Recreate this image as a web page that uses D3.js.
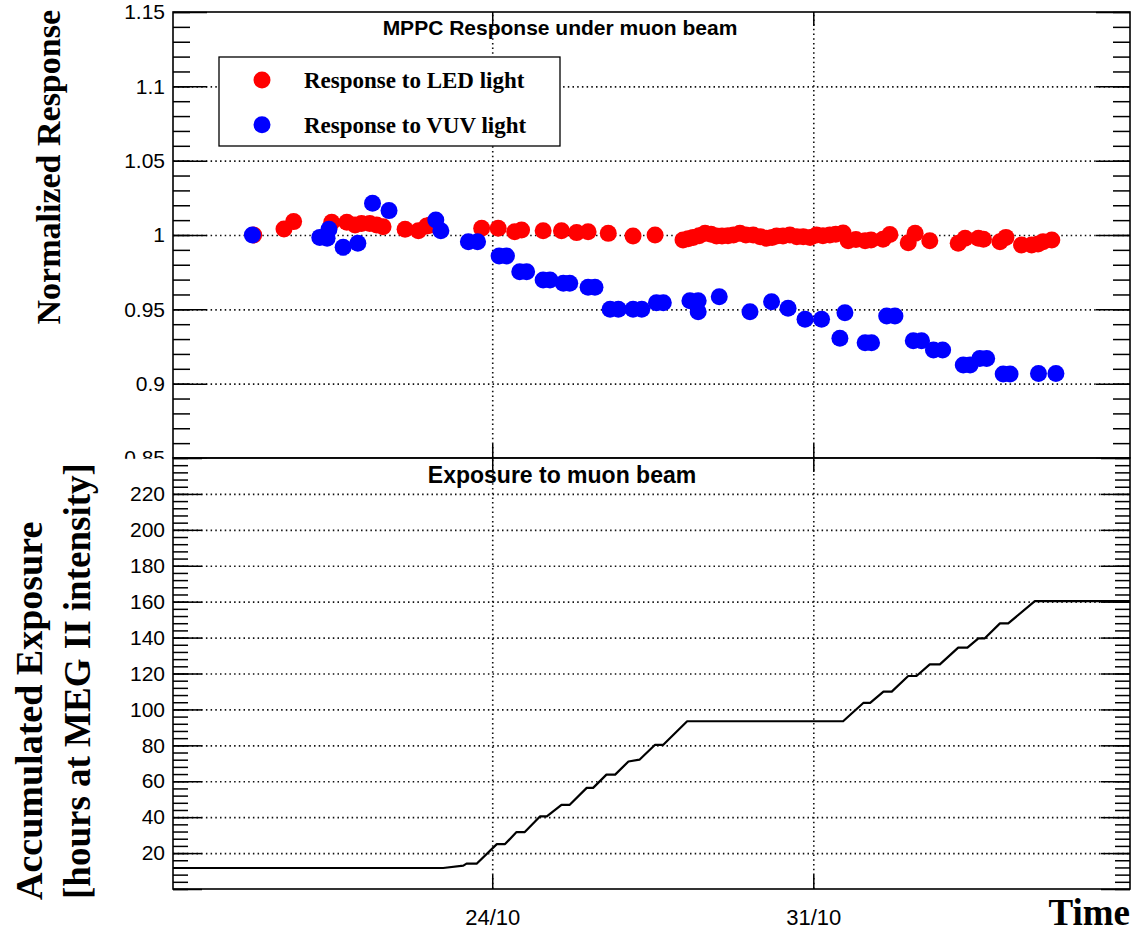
<!DOCTYPE html>
<html>
<head>
<meta charset="utf-8">
<script src="https://cdn.jsdelivr.net/npm/d3@7"></script>
<style>
  body { margin: 0; background: #fff; }
  svg { display: block; }
</style>
</head>
<body>
<div id="chart"></div>
<script>
// Time is given as fractional day counted from 1 October (32 = 1 November)
const ledDay = [18.80, 19.46, 19.67, 20.50, 20.83, 21.01, 21.15, 21.33, 21.48, 21.62, 22.10, 22.39, 22.57, 22.64,
  23.77, 24.13, 24.49, 24.64, 25.11, 25.51, 25.84, 26.09, 26.53, 27.07, 27.55, 28.16, 28.27, 28.38, 28.51, 28.64,
  28.77, 28.89, 29.01, 29.14, 29.26, 29.40, 29.53, 29.69, 29.84, 29.98, 30.10, 30.20, 30.34, 30.49, 30.64, 30.78,
  30.93, 31.07, 31.21, 31.36, 31.49, 31.65, 31.76, 31.93, 32.13, 32.26, 32.52, 32.67, 33.07, 33.22, 33.54, 34.16,
  34.31, 34.60, 34.71, 35.07, 35.20, 35.54, 35.76, 35.90, 36.01, 36.20];
const ledResponse = [1.0000, 1.0040, 1.0090, 1.0085, 1.0085, 1.0067, 1.0078, 1.0078, 1.0067, 1.0056, 1.0038, 1.0029, 1.0061, 1.0065,
  1.0045, 1.0045, 1.0022, 1.0034, 1.0029, 1.0029, 1.0016, 1.0022, 1.0011, 0.9993, 1.0000, 0.9966, 0.9975, 0.9984, 0.9995, 1.0011,
  1.0005, 0.9993, 0.9993, 0.9995, 1.0000, 1.0011, 1.0000, 1.0000, 0.9989, 0.9978, 0.9984, 0.9993, 0.9993, 1.0000, 0.9989, 0.9989,
  0.9984, 1.0000, 0.9995, 1.0000, 1.0005, 1.0014, 0.9962, 0.9970, 0.9962, 0.9966, 0.9971, 1.0003, 0.9948, 1.0011, 0.9962, 0.9944,
  0.9978, 0.9978, 0.9971, 0.9955, 0.9984, 0.9933, 0.9933, 0.9940, 0.9955, 0.9966];

const vuvDay = [18.77, 20.24, 20.40, 20.44, 20.75, 21.07, 21.39, 21.75, 22.77, 22.88, 23.48, 23.68, 24.15, 24.31,
  24.60, 24.75, 25.11, 25.26, 25.55, 25.69, 26.09, 26.24, 26.57, 26.75, 27.07, 27.26, 27.58, 27.73, 28.31, 28.49,
  28.49, 28.95, 29.62, 30.09, 30.45, 30.82, 31.18, 31.58, 31.69, 32.13, 32.27, 32.60, 32.78, 33.18, 33.36, 33.62,
  33.82, 34.27, 34.42, 34.63, 34.78, 35.14, 35.29, 35.91, 36.29];
const vuvResponse = [1.0000, 0.9984, 0.9978, 1.0038, 0.9917, 0.9944, 1.0213, 1.0164, 1.0101, 1.0029, 0.9955, 0.9955, 0.9859, 0.9859,
  0.9753, 0.9753, 0.9697, 0.9697, 0.9675, 0.9675, 0.9648, 0.9648, 0.9500, 0.9500, 0.9500, 0.9500, 0.9545, 0.9545, 0.9558, 0.9558,
  0.9484, 0.9585, 0.9484, 0.9551, 0.9507, 0.9433, 0.9433, 0.9305, 0.9477, 0.9275, 0.9275, 0.9455, 0.9455, 0.9289, 0.9289, 0.9226,
  0.9226, 0.9125, 0.9125, 0.9170, 0.9170, 0.9065, 0.9065, 0.9069, 0.9069];

const exposureDay = [17.04, 22.93, 23.37, 23.44, 23.66, 24.10, 24.28, 24.53, 24.71, 25.04, 25.19, 25.51, 25.69,
  26.06, 26.20, 26.49, 26.68, 26.97, 27.21, 27.55, 27.73, 28.25, 31.65, 32.09, 32.24, 32.53, 32.71, 33.07, 33.25,
  33.54, 33.76, 34.16, 34.36, 34.60, 34.74, 35.07, 35.25, 35.83, 37.905];
const exposureHours = [11.7, 11.7, 13.0, 14.1, 14.1, 25.0, 25.0, 31.7, 31.7, 40.4, 40.4, 46.9, 46.9,
  56.3, 56.3, 63.7, 63.7, 71.0, 72.0, 80.3, 80.3, 93.4, 93.4, 103.6, 103.6, 109.9, 109.9, 118.6, 118.6,
  125.1, 125.1, 134.4, 134.4, 139.6, 139.6, 147.9, 147.9, 160.3, 160.3];

// Axis ticks
const timeRange = [17.04, 37.905];
const timeTicks = [24, 31];
const responseTicks = [0.85, 0.9, 0.95, 1, 1.05, 1.1, 1.15];
const exposureTicks = [0, 20, 40, 60, 80, 100, 120, 140, 160, 180, 200, 220, 240];
const exposureLabels = [20, 40, 60, 80, 100, 120, 140, 160, 180, 200, 220];

// Layout
const totalWidth = 1132;
const totalHeight = 933;
const frameLeft = 173, frameRight = 1130;
const topPad = { top: 12, bottom: 458 };
const botPad = { top: 458, bottom: 889 };
const serif = "'Liberation Serif', 'Times New Roman', serif";
const sans = "'Liberation Sans', Arial, Helvetica, sans-serif";

const toDate = d => new Date(Date.UTC(2018, 9, 1) + (d - 1) * 864e5);

const svg = d3.select("#chart")
  .append("svg")
    .attr("width", totalWidth)
    .attr("height", totalHeight)
    .attr("viewBox", `0 0 ${totalWidth} ${totalHeight}`);

svg.append("rect").attr("width", totalWidth).attr("height", totalHeight).attr("fill", "#fff");

const x = d3.scaleUtc()
  .domain(timeRange.map(toDate))
  .range([frameLeft, frameRight]);

const yResp = d3.scaleLinear().domain([0.85, 1.15]).range([topPad.bottom, topPad.top]);
const yExp = d3.scaleLinear().domain([0, 240]).range([botPad.bottom, botPad.top]);

// Draws grid, ticks and frame of one pad
function drawPad(pad, y, opts) {
  const g = svg.append("g");
  const w = frameRight - frameLeft;
  const h = pad.bottom - pad.top;

  // dotted grid
  g.append("g")
    .attr("transform", `translate(${frameLeft},0)`)
    .call(d3.axisLeft(y).tickValues(opts.grid).tickSize(-w).tickFormat(""))
    .call(a => a.select(".domain").remove());
  g.append("g")
    .attr("transform", `translate(0,${pad.bottom})`)
    .call(d3.axisBottom(x).tickValues(timeTicks.map(toDate)).tickSize(-h).tickFormat(""))
    .call(a => a.select(".domain").remove());
  g.selectAll("line")
    .attr("stroke", "#111")
    .attr("stroke-width", 1.6)
    .attr("stroke-dasharray", "1.5,3.2");

  const ticks = svg.append("g").attr("color", "#000");
  // left major with labels
  ticks.append("g")
    .attr("transform", `translate(${frameLeft},0)`)
    .call(d3.axisLeft(y).tickValues(opts.major).tickSize(-opts.majorLen).tickPadding(8)
      .tickFormat(d => opts.labels.includes(d) ? d3.format("~g")(d) : ""))
    .call(a => a.select(".domain").remove())
    .attr("font-family", sans)
    .attr("font-size", opts.labelSize);
  ticks.append("g")
    .attr("transform", `translate(${frameLeft},0)`)
    .call(d3.axisLeft(y).tickValues(opts.minor).tickSize(-opts.minorLen).tickFormat(""))
    .call(a => a.select(".domain").remove());
  // right side ticks
  ticks.append("g")
    .attr("transform", `translate(${frameRight},0)`)
    .call(d3.axisRight(y).tickValues(opts.major).tickSize(-opts.majorLen).tickFormat(""))
    .call(a => a.select(".domain").remove());
  ticks.append("g")
    .attr("transform", `translate(${frameRight},0)`)
    .call(d3.axisRight(y).tickValues(opts.minor).tickSize(-opts.minorLen).tickFormat(""))
    .call(a => a.select(".domain").remove());
  // time ticks top and bottom
  ticks.append("g")
    .attr("transform", `translate(0,${pad.bottom})`)
    .call(d3.axisBottom(x).tickValues(timeTicks.map(toDate)).tickSize(-14).tickPadding(20)
      .tickFormat(opts.timeLabels ? d3.utcFormat("%d/%m") : ""))
    .call(a => a.select(".domain").remove())
    .attr("font-family", sans)
    .attr("font-size", 22);
  ticks.append("g")
    .attr("transform", `translate(0,${pad.top})`)
    .call(d3.axisTop(x).tickValues(timeTicks.map(toDate)).tickSize(-14).tickFormat(""))
    .call(a => a.select(".domain").remove());
  ticks.selectAll("line").attr("stroke-width", 1.5);
  ticks.selectAll("text").attr("fill", "#000");

  return g;
}

// ---------- Top pad: normalized response ----------
drawPad(topPad, yResp, {
  grid: [0.9, 0.95, 1, 1.05, 1.1],
  major: responseTicks,
  minor: d3.range(0.85, 1.1501, 0.01),
  labels: responseTicks,
  majorLen: 34,
  minorLen: 17,
  labelSize: 21,
  timeLabels: false
});

const ledData = ledDay.map((d, i) => ({ day: d, v: ledResponse[i] }));
const vuvData = vuvDay.map((d, i) => ({ day: d, v: vuvResponse[i] }));

svg.append("g").selectAll("circle")
  .data(ledData)
  .join("circle")
    .attr("cx", d => x(toDate(d.day)))
    .attr("cy", d => yResp(d.v))
    .attr("r", 8.5)
    .attr("fill", "#ff0000");

svg.append("g").selectAll("circle")
  .data(vuvData)
  .join("circle")
    .attr("cx", d => x(toDate(d.day)))
    .attr("cy", d => yResp(d.v))
    .attr("r", 8.5)
    .attr("fill", "#0000ff");

svg.append("rect")
  .attr("x", frameLeft).attr("y", topPad.top)
  .attr("width", frameRight - frameLeft).attr("height", topPad.bottom - topPad.top)
  .attr("fill", "none").attr("stroke", "#000").attr("stroke-width", 1.6);

svg.append("text")
  .attr("x", 560).attr("y", 35)
  .attr("text-anchor", "middle")
  .attr("font-family", sans).attr("font-weight", "bold").attr("font-size", 21)
  .text("MPPC Response under muon beam");

// legend
const legendItems = [
  { label: "Response to LED light", color: "#ff0000" },
  { label: "Response to VUV light", color: "#0000ff" }
];
const legend = svg.append("g");
legend.append("rect")
  .attr("x", 219).attr("y", 57).attr("width", 341).attr("height", 89)
  .attr("fill", "#fff").attr("stroke", "#000").attr("stroke-width", 1.3);
legendItems.forEach((item, i) => {
  const cy = 80 + i * 44.7;
  legend.append("circle").attr("cx", 262).attr("cy", cy).attr("r", 8.5).attr("fill", item.color);
  legend.append("text")
    .attr("x", 304).attr("y", cy + 8)
    .attr("font-family", serif).attr("font-weight", "bold").attr("font-size", 23)
    .text(item.label);
});

svg.append("text")
  .attr("transform", "translate(60,10) rotate(-90)")
  .attr("text-anchor", "end")
  .attr("font-family", serif).attr("font-weight", "bold").attr("font-size", 34)
  .text("Normalized Response");

// ---------- Bottom pad: accumulated exposure ----------
svg.append("rect")
  .attr("x", 0).attr("y", botPad.top + 0.8)
  .attr("width", totalWidth).attr("height", totalHeight - botPad.top)
  .attr("fill", "#fff");

drawPad(botPad, yExp, {
  grid: exposureLabels,
  major: exposureTicks,
  minor: d3.range(0, 241, 4),
  labels: exposureLabels,
  majorLen: 29,
  minorLen: 15,
  labelSize: 21,
  timeLabels: true
});

const exposureData = exposureDay.map((d, i) => ({ day: d, v: exposureHours[i] }));
svg.append("path")
  .datum(exposureData)
  .attr("fill", "none")
  .attr("stroke", "#000")
  .attr("stroke-width", 2.2)
  .attr("stroke-linejoin", "round")
  .attr("d", d3.line().x(d => x(toDate(d.day))).y(d => yExp(d.v)));

svg.append("rect")
  .attr("x", frameLeft).attr("y", botPad.top)
  .attr("width", frameRight - frameLeft).attr("height", botPad.bottom - botPad.top)
  .attr("fill", "none").attr("stroke", "#000").attr("stroke-width", 1.6);

svg.append("text")
  .attr("x", 562).attr("y", 483)
  .attr("text-anchor", "middle")
  .attr("font-family", sans).attr("font-weight", "bold").attr("font-size", 23)
  .text("Exposure to muon beam");

svg.append("text")
  .attr("transform", "translate(42,900) rotate(-90)")
  .attr("font-family", serif).attr("font-weight", "bold").attr("font-size", 38)
  .text("Accumulated Exposure");
svg.append("text")
  .attr("transform", "translate(90,899) rotate(-90)")
  .attr("font-family", serif).attr("font-weight", "bold").attr("font-size", 37)
  .text("[hours at MEG II intensity]");

svg.append("text")
  .attr("x", 1130).attr("y", 925)
  .attr("text-anchor", "end")
  .attr("font-family", serif).attr("font-weight", "bold").attr("font-size", 37)
  .text("Time");
</script>
</body>
</html>
